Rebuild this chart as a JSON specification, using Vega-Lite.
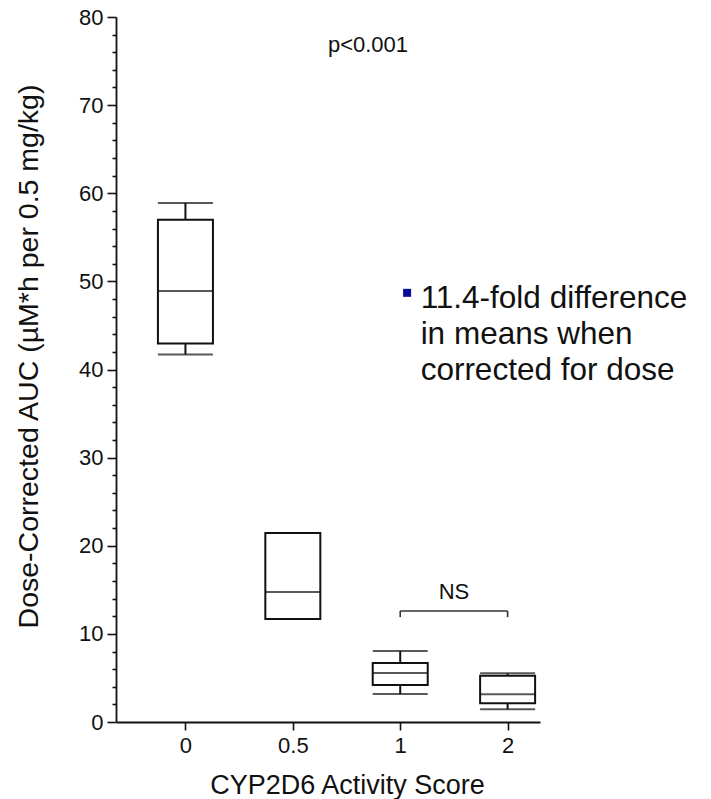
{
  "$schema": "https://vega.github.io/schema/vega-lite/v6.json",
  "width": 424,
  "height": 705,
  "autosize": {"type": "none"},
  "padding": {"left": 116, "top": 17, "right": 171, "bottom": 77},
  "background": "white",
  "config": {
    "view": {"stroke": null},
    "font": "Liberation Sans",
    "axis": {"grid": false, "domainColor": "#111111", "domainWidth": 1.8, "tickColor": "#111111", "tickWidth": 1.6, "labelColor": "#111111", "titleColor": "#111111", "labelFont": "Liberation Sans", "titleFont": "Liberation Sans", "titleFontWeight": "normal"}
  },
  "datasets": {
    "boxes": [
      {"score": "0", "idx": 0, "lo": 41.7, "q1": 42.95, "med": 48.9, "q3": 57.0, "hi": 58.9},
      {"score": "0.5", "idx": 1, "lo": 11.7, "q1": 11.7, "med": 14.75, "q3": 21.45, "hi": 21.45},
      {"score": "1", "idx": 2, "lo": 3.18, "q1": 4.2, "med": 5.56, "q3": 6.7, "hi": 8.06},
      {"score": "2", "idx": 3, "lo": 1.44, "q1": 2.12, "med": 3.14, "q3": 5.26, "hi": 5.52}
    ],
    "bracket": [
      {"from": 2, "to": 3, "top": 12.6, "bottom": 11.9}
    ],
    "notes": [
      {"kind": "p", "text": "p<0.001", "x": 1.7, "y": 76.8},
      {"kind": "ns", "text": "NS", "x": 2.5, "y": 14.8},
      {"kind": "bullet", "text": "11.4-fold difference\nin means when\ncorrected for dose", "x": 2.19, "y": 47.0}
    ],
    "marker": [
      {"x": 2.064, "y": 48.7}
    ]
  },
  "resolve": {"axis": {"y": "independent"}},
  "layer": [
    {
      "data": {"name": "boxes"},
      "mark": {"type": "rule", "color": "#111111", "strokeWidth": 2},
      "encoding": {
        "x": {"field": "idx", "type": "quantitative",
          "scale": {"domain": [-0.6, 3.255], "nice": false, "zero": false},
          "axis": {"values": [0, 1, 2, 3], "labelExpr": "datum.value == 0 ? '0' : datum.value == 1 ? '0.5' : datum.value == 2 ? '1' : '2'",
            "tickSize": 8, "labelFontSize": 22, "labelPadding": 5,
            "title": "CYP2D6 Activity Score", "titleFontSize": 27, "titleX": 231, "titleY": 71, "titleBaseline": "alphabetic", "titleAlign": "center", "titleAnchor": null}},
        "y": {"field": "lo", "type": "quantitative",
          "scale": {"domain": [0, 80], "nice": false, "zero": true},
          "axis": {"values": [0, 10, 20, 30, 40, 50, 60, 70, 80], "tickSize": 9, "labelFontSize": 22, "labelPadding": 4,
            "title": "Dose-Corrected AUC (µM*h per 0.5 mg/kg)", "titleFontSize": 28.5, "titleAngle": 270, "titleX": -88, "titleY": 339, "titleAlign": "center", "titleBaseline": "middle", "titleAnchor": null, "orient": "left"}},
        "y2": {"field": "hi"}
      }
    },
    {
      "data": {"name": "boxes"},
      "mark": {"type": "bar", "size": 55, "fill": "white", "stroke": "#111111", "strokeWidth": 2},
      "encoding": {
        "x": {"field": "idx", "type": "quantitative"},
        "y": {"field": "q1", "type": "quantitative", "axis": null},
        "y2": {"field": "q3"}
      }
    },
    {
      "data": {"name": "boxes"},
      "mark": {"type": "tick", "orient": "horizontal", "size": 55, "thickness": 2, "color": "#111111"},
      "encoding": {
        "x": {"field": "idx", "type": "quantitative"},
        "y": {"field": "med", "type": "quantitative",
          "axis": {"values": [2, 4, 6, 8, 12, 14, 16, 18, 22, 24, 26, 28, 32, 34, 36, 38, 42, 44, 46, 48, 52, 54, 56, 58, 62, 64, 66, 68, 72, 74, 76, 78],
            "tickSize": 4, "labels": false, "domain": false, "title": null, "orient": "left"}}
      }
    },
    {
      "data": {"name": "boxes"},
      "mark": {"type": "tick", "orient": "horizontal", "size": 55, "thickness": 2, "color": "#111111"},
      "encoding": {
        "x": {"field": "idx", "type": "quantitative"},
        "y": {"field": "lo", "type": "quantitative", "axis": null}
      }
    },
    {
      "data": {"name": "boxes"},
      "mark": {"type": "tick", "orient": "horizontal", "size": 55, "thickness": 2, "color": "#111111"},
      "encoding": {
        "x": {"field": "idx", "type": "quantitative"},
        "y": {"field": "hi", "type": "quantitative", "axis": null}
      }
    },
    {
      "data": {"name": "bracket"},
      "mark": {"type": "rule", "color": "#333333", "strokeWidth": 1.6},
      "encoding": {
        "x": {"field": "from", "type": "quantitative"},
        "x2": {"field": "to"},
        "y": {"field": "top", "type": "quantitative", "axis": null}
      }
    },
    {
      "data": {"name": "bracket"},
      "mark": {"type": "rule", "color": "#333333", "strokeWidth": 1.6},
      "encoding": {
        "x": {"field": "from", "type": "quantitative"},
        "y": {"field": "bottom", "type": "quantitative", "axis": null},
        "y2": {"field": "top"}
      }
    },
    {
      "data": {"name": "bracket"},
      "mark": {"type": "rule", "color": "#333333", "strokeWidth": 1.6},
      "encoding": {
        "x": {"field": "to", "type": "quantitative"},
        "y": {"field": "bottom", "type": "quantitative", "axis": null},
        "y2": {"field": "top"}
      }
    },
    {
      "data": {"name": "notes"},
      "transform": [{"filter": "datum.kind != 'bullet'"}],
      "mark": {"type": "text", "fontSize": 22, "color": "#111111", "align": "center", "baseline": "middle", "font": "Liberation Sans"},
      "encoding": {
        "x": {"field": "x", "type": "quantitative"},
        "y": {"field": "y", "type": "quantitative", "axis": null},
        "text": {"field": "text"}
      }
    },
    {
      "data": {"name": "notes"},
      "transform": [{"filter": "datum.kind == 'bullet'"}],
      "mark": {"type": "text", "fontSize": 31.5, "color": "#111111", "align": "left", "baseline": "alphabetic", "lineBreak": "\n", "lineHeight": 36, "font": "Liberation Sans"},
      "encoding": {
        "x": {"field": "x", "type": "quantitative"},
        "y": {"field": "y", "type": "quantitative", "axis": null},
        "text": {"field": "text"}
      }
    },
    {
      "data": {"name": "marker"},
      "mark": {"type": "point", "shape": "square", "filled": true, "size": 64, "color": "#0b0b99", "opacity": 1},
      "encoding": {
        "x": {"field": "x", "type": "quantitative"},
        "y": {"field": "y", "type": "quantitative", "axis": null}
      }
    }
  ]
}
